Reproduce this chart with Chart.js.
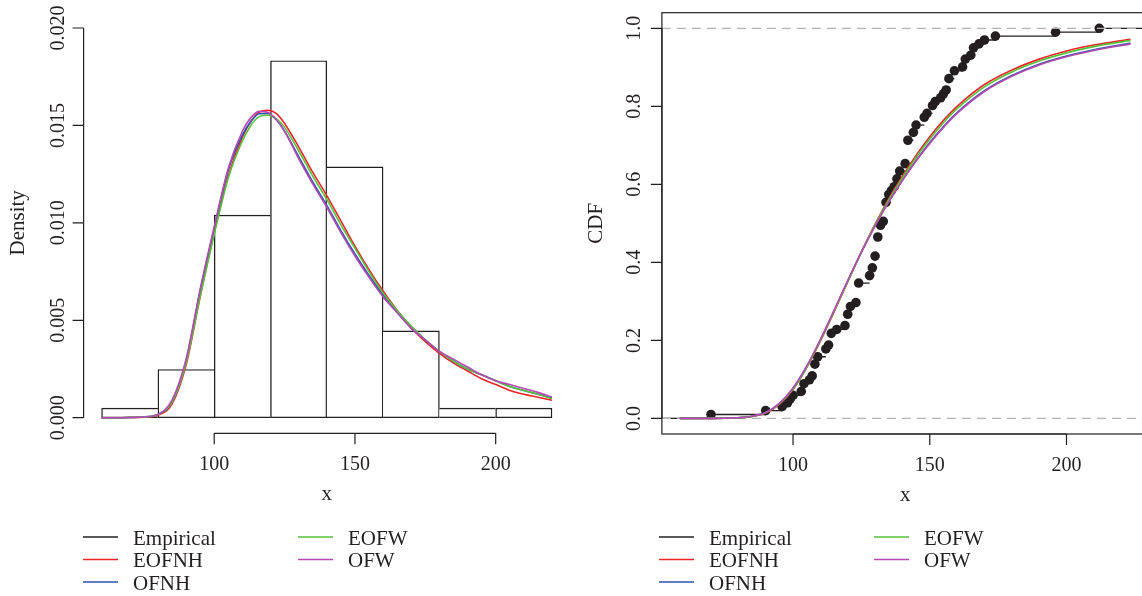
<!DOCTYPE html>
<html>
<head>
<meta charset="utf-8">
<script src="https://cdn.jsdelivr.net/npm/chart.js@4.4.1/dist/chart.umd.min.js"></script>
<style>
	html, body { margin: 0; padding: 0; background: #fff; overflow: hidden; width: 1142px; height: 596px; }
	#hist { position: absolute; left: 0; top: 0; }
	#cdf { position: absolute; left: 580px; top: 0; }
</style>
</head>
<body>
<canvas id="hist" width="580" height="596"></canvas>
<canvas id="cdf" width="580" height="596"></canvas>
<script>
// ---- data ----
const histBreaks = [60, 80, 100, 120, 140, 160, 180, 200, 220];
const histDensity = [0.000495, 0.002475, 0.0104, 0.01832, 0.01287, 0.004455, 0.000495, 0.000495];

// density curves (left panel)
const densX = [60, 65, 70, 75, 80, 85, 90, 95, 100, 105, 110, 113, 116, 119, 122, 125, 130, 135, 140, 145, 150, 155, 160, 165, 170, 175, 180, 185, 190, 195, 200, 205, 210, 215, 220];
const densEOFNH = [0, 0, 0.00001, 0.00003, 0.00013, 0.0007, 0.0027, 0.0062, 0.0095, 0.0124, 0.0144, 0.0152, 0.01568, 0.01578, 0.01562, 0.0151, 0.0139, 0.0126, 0.0114, 0.0101, 0.0088, 0.0076, 0.0065, 0.0055, 0.0046, 0.0039, 0.0033, 0.0028, 0.0024, 0.0020, 0.0017, 0.0014, 0.0012, 0.00105, 0.0009];
const densOFNH = [0, 0, 0.00001, 0.00004, 0.00017, 0.0008, 0.0029, 0.0065, 0.0097, 0.0127, 0.0145, 0.0152, 0.0156, 0.01562, 0.0153, 0.0147, 0.0134, 0.0121, 0.0109, 0.0096, 0.0084, 0.0073, 0.0063, 0.0054, 0.0046, 0.0040, 0.0034, 0.0029, 0.0025, 0.0022, 0.0019, 0.0016, 0.0014, 0.0012, 0.00102];
const densEOFW = [0, 0, 0.00001, 0.00004, 0.00016, 0.0008, 0.0028, 0.0062, 0.0094, 0.0123, 0.0142, 0.0150, 0.01545, 0.01552, 0.01535, 0.0149, 0.0137, 0.0124, 0.0112, 0.0099, 0.0087, 0.0075, 0.0064, 0.0055, 0.0047, 0.0040, 0.0034, 0.0029, 0.0025, 0.0022, 0.0019, 0.0016, 0.0014, 0.0012, 0.00098];
const densOFW = [0, 0, 0.00001, 0.00004, 0.00017, 0.0009, 0.0030, 0.0066, 0.0098, 0.0128, 0.0147, 0.0154, 0.01572, 0.01568, 0.0153, 0.0147, 0.0133, 0.0120, 0.0108, 0.0095, 0.0083, 0.0072, 0.0062, 0.0054, 0.0046, 0.0040, 0.0034, 0.0030, 0.0026, 0.0022, 0.0019, 0.0017, 0.0015, 0.0013, 0.00106];

// empirical cdf knots (right panel)
const ecdfX = [70, 90, 96, 98, 99, 100, 103, 104, 106, 107, 108, 109, 112, 113, 114, 116, 119, 120, 121, 123, 124, 128, 129, 130, 131, 132, 133, 134, 135, 136, 137, 138, 139, 141, 142, 144, 145, 148, 149, 151, 152, 154, 155, 156, 157, 159, 162, 163, 165, 166, 168, 170, 174, 196, 212];
const ecdfY = [0.010, 0.020, 0.030, 0.040, 0.050, 0.059, 0.069, 0.089, 0.099, 0.109, 0.139, 0.158, 0.178, 0.188, 0.218, 0.228, 0.238, 0.267, 0.287, 0.297, 0.347, 0.366, 0.386, 0.416, 0.465, 0.495, 0.505, 0.554, 0.574, 0.584, 0.594, 0.614, 0.634, 0.653, 0.713, 0.733, 0.752, 0.772, 0.782, 0.802, 0.812, 0.822, 0.832, 0.842, 0.871, 0.891, 0.901, 0.921, 0.931, 0.950, 0.960, 0.970, 0.980, 0.990, 1.000];

// fitted cdf curves (right panel)
const cdfX = [58.6, 65, 70, 75, 80, 85, 90, 95, 100, 105, 110, 115, 120, 125, 130, 135, 140, 145, 150, 155, 160, 170, 180, 190, 200, 210, 223.4];
const cdfEOFNH = [0, 0.00002, 0.0001, 0.0004, 0.0015, 0.005, 0.014, 0.036, 0.074, 0.13, 0.198, 0.273, 0.35, 0.427, 0.498, 0.563, 0.621, 0.674, 0.722, 0.764, 0.8, 0.856, 0.893, 0.921, 0.942, 0.957, 0.972];
const cdfOFNH = [0, 0.00002, 0.0001, 0.0005, 0.0018, 0.0056, 0.015, 0.038, 0.077, 0.133, 0.201, 0.276, 0.352, 0.426, 0.494, 0.556, 0.611, 0.661, 0.707, 0.748, 0.784, 0.84, 0.879, 0.908, 0.929, 0.945, 0.962];
const cdfEOFW = [0, 0.00002, 0.0001, 0.0004, 0.0016, 0.0052, 0.0145, 0.037, 0.075, 0.131, 0.199, 0.274, 0.35, 0.426, 0.496, 0.56, 0.617, 0.669, 0.716, 0.758, 0.794, 0.85, 0.888, 0.916, 0.937, 0.953, 0.969];
const cdfOFW = [0, 0.00002, 0.0001, 0.0005, 0.0018, 0.0057, 0.0152, 0.0385, 0.078, 0.134, 0.202, 0.277, 0.353, 0.426, 0.493, 0.555, 0.61, 0.66, 0.705, 0.746, 0.782, 0.838, 0.877, 0.906, 0.927, 0.943, 0.960];

// ticks and labels
const histXTicks = [100, 150, 200];
const histYTicks = [0, 0.005, 0.010, 0.015, 0.020];
const cdfXTicks = [100, 150, 200];
const cdfYTicks = [0, 0.2, 0.4, 0.6, 0.8, 1.0];
const legendLabels = ['Empirical', 'EOFNH', 'OFNH', 'EOFW', 'OFW'];

// ---- style ----
const ink = '#231f20';
const fitColors = { EOFNH: '#ee2428', OFNH: '#2f52b0', EOFW: '#55c23a', OFW: '#b54ab2' };
const serif = '"Liberation Serif", "DejaVu Serif", serif';
Chart.defaults.font.family = serif;

function pts(xs, ys) {
	return xs.map((x, i) => ({ x: x, y: ys[i] }));
}

function curve(label, xs, ys, order) {
	return {
		type: 'line',
		label: label,
		data: pts(xs, ys),
		borderColor: fitColors[label],
		borderWidth: 1.6,
		pointRadius: 0,
		fill: false,
		cubicInterpolationMode: 'monotone',
		order: order,
	};
}

// R style axes: axis line only from first to last tick, rotated y labels
const rAxes = {
	id: 'rAxes',
	afterDraw(chart, args, o) {
		const ctx = chart.ctx;
		const a = chart.chartArea;
		const xs = chart.scales.x, ys = chart.scales.y;
		ctx.save();
		ctx.strokeStyle = ink;
		ctx.fillStyle = ink;
		ctx.lineWidth = 1.2;
		if (o.box) {
			ctx.strokeRect(a.left, a.top, a.right - a.left + 30, a.bottom - a.top);
		}
		// x axis
		const xa = o.xTicks.map((t) => xs.getPixelForValue(t));
		ctx.beginPath();
		ctx.moveTo(xa[0], a.bottom);
		ctx.lineTo(xa[xa.length - 1], a.bottom);
		xa.forEach((p) => { ctx.moveTo(p, a.bottom); ctx.lineTo(p, a.bottom + 11); });
		// y axis
		const ya = o.yTicks.map((t) => ys.getPixelForValue(t));
		ctx.moveTo(a.left, ya[0]);
		ctx.lineTo(a.left, ya[ya.length - 1]);
		ya.forEach((p) => { ctx.moveTo(a.left, p); ctx.lineTo(a.left - 11, p); });
		ctx.stroke();

		ctx.font = '20px ' + serif;
		ctx.textAlign = 'center';
		ctx.textBaseline = 'alphabetic';
		o.xTicks.forEach((t, i) => ctx.fillText(String(t), xa[i], a.bottom + 36.5));
		o.yTicks.forEach((t, i) => {
			ctx.save();
			ctx.translate(a.left - o.yLabelGap, ya[i]);
			ctx.rotate(-Math.PI / 2);
			ctx.fillText(t.toFixed(o.digits), 0, 0);
			ctx.restore();
		});
		ctx.font = '21px ' + serif;
		ctx.fillText(o.xTitle, (a.left + a.right) / 2, a.bottom + 67);
		ctx.save();
		ctx.translate(a.left - 60, (a.top + a.bottom) / 2);
		ctx.rotate(-Math.PI / 2);
		ctx.fillText(o.yTitle, 0, 0);
		ctx.restore();
		ctx.restore();
	}
};

// legend in two columns under the plot
const rLegend = {
	id: 'rLegend',
	afterDraw(chart, args, o) {
		const ctx = chart.ctx;
		const colors = [ink, fitColors.EOFNH, fitColors.OFNH, fitColors.EOFW, fitColors.OFW];
		const rows = [537, 559.5, 582];
		ctx.save();
		ctx.font = '21px ' + serif;
		ctx.textAlign = 'left';
		ctx.textBaseline = 'alphabetic';
		ctx.lineWidth = 1.6;
		legendLabels.forEach((lab, i) => {
			const col = i < 3 ? 0 : 1;
			const y = rows[i < 3 ? i : i - 3];
			const x = o.x + col * 215;
			ctx.strokeStyle = colors[i];
			ctx.beginPath();
			ctx.moveTo(x, y);
			ctx.lineTo(x + 35, y);
			ctx.stroke();
			ctx.fillStyle = ink;
			ctx.fillText(lab, x + 50, y + 7.5);
		});
		ctx.restore();
	}
};

// ---- left: histogram + densities ----
const lastBin = histDensity.length - 1;
const barEdge = 1.4;
new Chart(document.getElementById('hist'), {
	type: 'bar',
	data: {
		datasets: [
			curve('OFW', densX, densOFW, 1),
			curve('EOFW', densX, densEOFW, 2),
			curve('OFNH', densX, densOFNH, 3),
			curve('EOFNH', densX, densEOFNH, 4),
			{
				type: 'bar',
				label: 'hist',
				data: histDensity.map((d, i) => ({ x: (histBreaks[i] + histBreaks[i + 1]) / 2, y: d })),
				backgroundColor: '#ffffff',
				borderColor: ink,
				borderWidth: (c) => {
					const i = c.dataIndex;
					const h = histDensity;
					return {
						top: barEdge,
						bottom: barEdge,
						left: (i === 0 || h[i] >= h[i - 1]) ? barEdge : 0,
						right: (i === lastBin || h[i] > h[i + 1]) ? barEdge : 0,
					};
				},
				borderSkipped: false,
				barPercentage: 1,
				categoryPercentage: 1,
				order: 10,
			},
		],
	},
	options: {
		responsive: false,
		animation: false,
		events: [],
		layout: { padding: { left: 83.6, right: 10, top: 12.4, bottom: 162.7 } },
		scales: {
			x: { type: 'linear', min: 53.6, max: 226.4, offset: false, display: false },
			y: { type: 'linear', min: -0.0008, max: 0.0208, display: false },
		},
		plugins: {
			legend: { display: false },
			tooltip: { enabled: false },
			rAxes: { xTicks: histXTicks, yTicks: histYTicks, digits: 3, yLabelGap: 20, xTitle: 'x', yTitle: 'Density', box: false },
			rLegend: { x: 83 },
		},
	},
	plugins: [rAxes, rLegend],
});

// ---- right: empirical cdf + fitted cdfs ----
const xLo = 52.05, xHi = 229.95;
const steps = [{ x: xLo, y: 0 }, { x: ecdfX[0], y: 0 }, { x: ecdfX[0], y: null }];
ecdfX.forEach((x, i) => {
	const next = i < ecdfX.length - 1 ? ecdfX[i + 1] : xHi;
	steps.push({ x: x, y: ecdfY[i] }, { x: next, y: ecdfY[i] }, { x: next, y: null });
});

new Chart(document.getElementById('cdf'), {
	type: 'line',
	data: {
		datasets: [
			curve('OFW', cdfX, cdfOFW, 1),
			curve('EOFW', cdfX, cdfEOFW, 2),
			curve('OFNH', cdfX, cdfOFNH, 3),
			curve('EOFNH', cdfX, cdfEOFNH, 4),
			{
				label: 'ref',
				data: [{ x: xLo, y: 0 }, { x: xHi, y: 0 }, { x: xHi, y: null }, { x: xLo, y: 1 }, { x: xHi, y: 1 }],
				borderColor: '#b3b3b3',
				borderWidth: 1.3,
				borderDash: [9, 6],
				pointRadius: 0,
				spanGaps: false,
				order: 7,
			},
			{
				label: 'points',
				data: pts(ecdfX, ecdfY),
				showLine: false,
				pointRadius: 4.8,
				pointBackgroundColor: ink,
				pointBorderWidth: 0,
				order: 8,
			},
			{
				label: 'Empirical',
				data: steps,
				borderColor: ink,
				borderWidth: 1.3,
				pointRadius: 0,
				tension: 0,
				spanGaps: false,
				order: 9,
			},
		],
	},
	options: {
		responsive: false,
		animation: false,
		events: [],
		layout: { padding: { left: 81.9, right: 11.6, top: 12.7, bottom: 162 } },
		scales: {
			x: { type: 'linear', min: xLo, max: xHi, display: false },
			y: { type: 'linear', min: -0.04, max: 1.04, display: false },
		},
		plugins: {
			legend: { display: false },
			tooltip: { enabled: false },
			rAxes: { xTicks: cdfXTicks, yTicks: cdfYTicks, digits: 1, yLabelGap: 22, xTitle: 'x', yTitle: 'CDF', box: true },
			rLegend: { x: 79 },
		},
	},
	plugins: [rAxes, rLegend],
});
</script>
</body>
</html>
